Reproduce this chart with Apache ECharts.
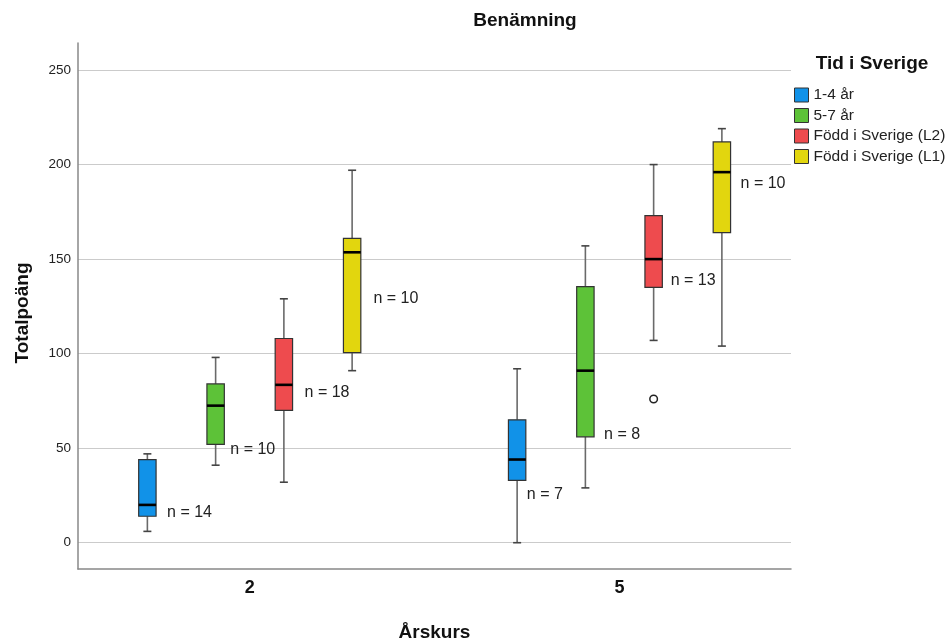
<!DOCTYPE html>
<html><head><meta charset="utf-8">
<script src="https://cdn.jsdelivr.net/npm/echarts@6/dist/echarts.min.js"></script>
<style>html,body{margin:0;padding:0;background:#fff}#c{width:950px;height:641px}</style>
</head><body><div id="c"></div>
<script>
// ---- data ----
const grades = ['2', '5'];
const groups = ['1-4 år', '5-7 år', 'Född i Sverige (L2)', 'Född i Sverige (L1)'];
// [min, Q1, median, Q3, max] per grade
const box14 = [[6, 14, 20, 44, 47], [0, 33, 44, 65, 92]];
const box57 = [[41, 52, 72.5, 84, 98], [29, 56, 91, 135.5, 157]];
const boxL2 = [[32, 70, 83.5, 108, 129], [107, 135, 150, 173, 200]];
const boxL1 = [[91, 100.5, 153.6, 161, 197], [104, 164, 196, 212, 219]];
const counts14 = [14, 7];
const counts57 = [10, 8];
const countsL2 = [18, 13];
const countsL1 = [10, 10];
const outliers14 = [[], []];
const outliers57 = [[], []];
const outliersL2 = [[], [76]];
const outliersL1 = [[], []];
const yTicks = [0, 50, 100, 150, 200, 250];

// ---- annotation layout (n-label anchors, value units / pixel gap) ----
const nLabelY = [[16.1, 25.6], [49.1, 57.3], [79.4, 138.4], [128.9, 190.1]];
const nLabelDx = [[11, 1], [6, 10], [12, 8.3], [12.6, 10]];

const colors = ['#1192E8', '#5DC238', '#EE4B4E', '#E2D60E'];
const FONT = '"Liberation Sans", Arial, sans-serif';
const boxes = [box14, box57, boxL2, boxL1];
const counts = [counts14, counts57, countsL2, countsL1];
const outliers = [outliers14, outliers57, outliersL2, outliersL1];
const STEP = 0.18458;   // spacing between boxes in category units
const HW = 8.7;         // half box width (px)
const CAP = 4;          // half whisker cap width (px)

function makeRender(s) {
  return function (params, api) {
    const c = api.value(0);
    const xv = c + (s - 1.5) * STEP;
    const x = api.coord([xv, 0])[0];
    const y = v => api.coord([xv, v])[1];
    const yMin = y(api.value(1)), yQ1 = y(api.value(2)), yMed = y(api.value(3)),
          yQ3 = y(api.value(4)), yMax = y(api.value(5));
    const wStyle = { stroke: '#6a6a6a', lineWidth: 1.6 };
    const capStyle = { stroke: '#444', lineWidth: 1.6 };
    const ch = [
      { type: 'line', shape: { x1: x, y1: yMax, x2: x, y2: yQ3 }, style: wStyle },
      { type: 'line', shape: { x1: x, y1: yQ1, x2: x, y2: yMin }, style: wStyle },
      { type: 'line', shape: { x1: x - CAP, y1: yMax, x2: x + CAP, y2: yMax }, style: capStyle },
      { type: 'line', shape: { x1: x - CAP, y1: yMin, x2: x + CAP, y2: yMin }, style: capStyle },
      { type: 'rect', shape: { x: x - HW, y: yQ3, width: 2 * HW, height: yQ1 - yQ3 },
        style: { fill: colors[s], stroke: '#333', lineWidth: 1.2 } },
      { type: 'line', shape: { x1: x - HW, y1: yMed, x2: x + HW, y2: yMed },
        style: { stroke: '#000', lineWidth: 2.6 } }
    ];
    (outliers[s][params.dataIndex] || []).forEach(v => {
      ch.push({ type: 'circle', shape: { cx: x, cy: y(v), r: 3.8 },
        style: { fill: '#fff', stroke: '#222', lineWidth: 1.5 } });
    });
    ch.push({ type: 'text', style: {
      text: 'n = ' + api.value(6),
      x: x + HW + nLabelDx[s][params.dataIndex],
      y: y(nLabelY[s][params.dataIndex]),
      verticalAlign: 'middle', align: 'left',
      fontSize: 16, fontFamily: FONT, fill: '#222' } });
    return { type: 'group', children: ch };
  };
}

const series = groups.map((g, s) => ({
  name: g,
  type: 'custom',
  renderItem: makeRender(s),
  itemStyle: { color: colors[s], borderColor: '#333', borderWidth: 1 },
  encode: { x: 0, y: [1, 2, 3, 4, 5] },
  clip: false,
  silent: true,
  data: grades.map((gr, i) => [i].concat(boxes[s][i], [counts[s][i]]))
}));

const chart = echarts.init(document.getElementById('c'), null, { renderer: 'canvas' });
chart.setOption({
  animation: false,
  backgroundColor: '#fff',
  title: [
    { text: 'Benämning', left: 525, top: 11, textAlign: 'center', padding: 0,
      textStyle: { fontSize: 19, fontWeight: 'bold', color: '#111', fontFamily: FONT } },
    { text: 'Tid i Sverige', left: 872, top: 54, textAlign: 'center', padding: 0,
      textStyle: { fontSize: 19, fontWeight: 'bold', color: '#111', fontFamily: FONT } }
  ],
  legend: {
    data: groups, orient: 'vertical', left: 794, top: 87, padding: 0,
    itemWidth: 14, itemHeight: 14, itemGap: 4.5, icon: 'rect',
    itemStyle: { borderColor: '#333', borderWidth: 1 },
    textStyle: { fontSize: 15.5, color: '#222', fontFamily: FONT, lineHeight: 16 },
    selectedMode: false
  },
  grid: { left: 78, right: 159, top: 43, bottom: 72, containLabel: false, outerBoundsMode: 'none' },
  xAxis: {
    type: 'value', min: -0.4645, max: 1.4638,
    axisLine: { show: true, onZero: false, lineStyle: { color: '#888', width: 1.5 } },
    axisTick: { show: false, customValues: [0, 1] },
    splitLine: { show: false },
    axisLabel: { customValues: [0, 1], formatter: v => grades[Math.round(v)],
      fontSize: 18, fontWeight: 'bold', color: '#111', fontFamily: FONT, margin: 10 },
    name: 'Årskurs', nameLocation: 'middle', nameGap: 54,
    nameTextStyle: { fontSize: 19, fontWeight: 'bold', color: '#111', fontFamily: FONT }
  },
  yAxis: {
    type: 'value', min: -13.9, max: 264.3,
    axisLine: { show: true, onZero: false, lineStyle: { color: '#888', width: 1.5 } },
    axisTick: { show: false, customValues: yTicks },
    splitLine: { show: true, lineStyle: { color: '#cbcbcb', width: 1.2 } },
    axisLabel: { customValues: yTicks, fontSize: 13.5, color: '#222', fontFamily: FONT, margin: 7 },
    name: 'Totalpoäng', nameLocation: 'middle', nameGap: 46,
    nameTextStyle: { fontSize: 19, fontWeight: 'bold', color: '#111', fontFamily: FONT,
      padding: [0, 14, 0, 0] }
  },
  series: series
});
</script>
</body></html>
